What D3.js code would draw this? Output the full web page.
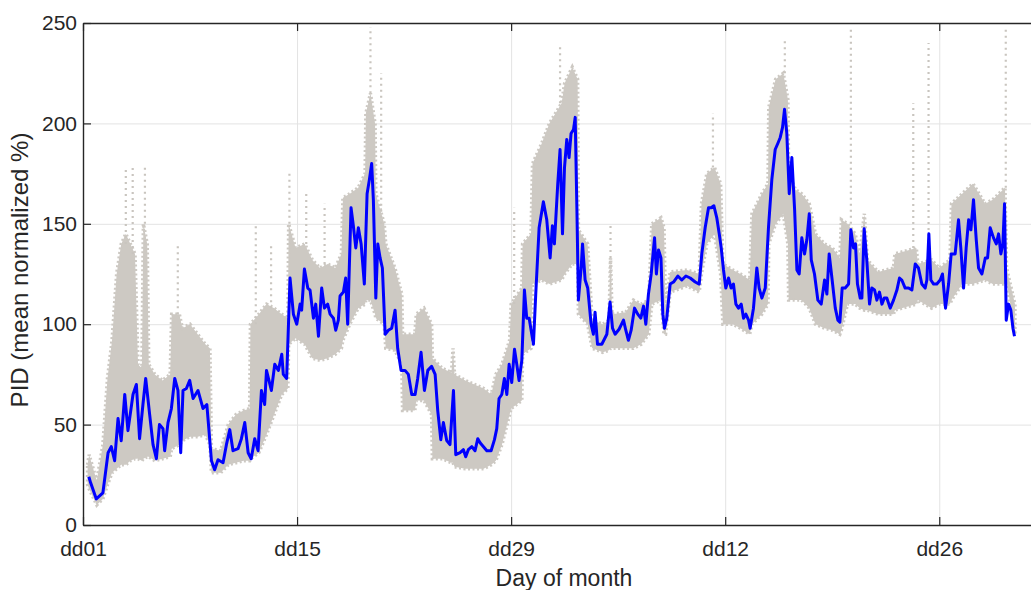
<!DOCTYPE html>
<html>
<head>
<meta charset="utf-8">
<script src="https://cdn.jsdelivr.net/npm/d3@7"></script>
<style>
  body { margin: 0; background: #fff; }
  svg { display: block; font-family: "Liberation Sans", Arial, sans-serif; }
</style>
</head>
<body>
<div id="canvas"></div>
<script>
// day offsets from dd01 and the mean line
const blueT = [0.38,0.5,0.87,1.3,1.64,1.85,2.07,2.29,2.5,2.73,2.94,3.27,3.49,3.7,3.92,4.1,4.36,4.58,4.8,5.0,5.23,5.34,5.56,5.78,6.0,6.21,6.39,6.54,6.76,6.98,7.2,7.52,7.85,8.1,8.4,8.61,8.83,9.16,9.38,9.6,9.81,10.14,10.36,10.58,10.8,11.0,11.23,11.45,11.67,11.88,12.0,12.32,12.54,12.78,13.0,13.1,13.32,13.54,13.76,13.98,14.2,14.3,14.48,14.7,14.85,15.07,15.22,15.4,15.61,15.79,16.0,16.16,16.38,16.53,16.7,16.81,17.03,17.18,17.31,17.53,17.68,17.84,18.01,18.19,18.4,18.58,18.73,18.88,18.99,19.15,19.28,19.43,19.58,19.76,19.97,20.19,20.41,20.58,20.8,21.06,21.28,21.5,21.72,21.89,22.11,22.33,22.55,22.8,23.03,23.2,23.4,23.57,23.79,24.0,24.23,24.38,24.66,24.88,25.03,25.2,25.43,25.64,25.82,25.97,26.19,26.41,26.69,26.91,27.06,27.21,27.39,27.56,27.72,27.87,28.04,28.22,28.37,28.52,28.7,28.87,29.02,29.18,29.35,29.46,29.61,29.83,30.11,30.33,30.55,30.7,30.83,31.05,31.2,31.36,31.49,31.64,31.79,31.92,32.08,32.19,32.3,32.4,32.58,32.67,32.84,33.01,33.23,33.38,33.49,33.65,33.93,34.26,34.47,34.63,34.8,35.06,35.35,35.5,35.67,35.85,36.07,36.28,36.48,36.66,36.81,36.98,37.16,37.38,37.5,37.64,37.8,37.92,38.03,38.18,38.4,38.62,38.9,39.16,39.43,39.71,40.04,40.3,40.47,40.69,40.91,41.08,41.26,41.45,41.61,41.74,41.89,42.04,42.22,42.39,42.54,42.7,42.87,43.05,43.2,43.35,43.53,43.63,43.85,44.07,44.22,44.4,44.62,44.83,45.05,45.27,45.44,45.6,45.75,45.88,46.03,46.19,46.36,46.54,46.69,46.84,47.01,47.19,47.34,47.5,47.63,47.84,48.06,48.28,48.5,48.65,48.8,48.98,49.2,49.37,49.5,49.65,49.85,50.07,50.22,50.39,50.52,50.65,50.83,50.94,51.09,51.26,51.44,51.59,51.77,51.92,52.09,52.25,52.4,52.57,52.79,53.01,53.23,53.4,53.55,53.77,53.99,54.21,54.43,54.64,54.86,55.08,55.19,55.32,55.45,55.63,55.84,56.06,56.21,56.41,56.61,56.78,57.04,57.26,57.41,57.59,57.76,57.92,58.07,58.24,58.42,58.57,58.79,59.01,59.16,59.33,59.55,59.73,59.88,60.03,60.16,60.27,60.38,60.53,60.68,60.82,60.92];
const blueV = [24,21,13,16,36,39,32,53,42,65,47,65,70,43,60,73,55,40,33,50,48,37,51,58,73,67,36,67,68,72,63,67,58,60,32,27.5,32.5,31,40,47.5,37,38,43,51,36,33,43,37,67,60,77,67,80,77,85,75,73,123,105,100,110,107,127.5,118,117,103,110,94,118,108,110,105,103,97,102,114,116,123,100,158,149,138,148,140,120,165,172,180,162,113,140,133,128,95,97,98,107,88,77,77,75,65,65,73,86,67,77,79,75,57,42.5,51,42,40,67,35,36,37.5,34,37.5,39,37,43,41,39,37,37,42.5,48,63,65,73,65,80,71,87.5,80,72,82,117,103,103,95,90,115,148,161,152,133,149,140,170,187,145,178,192,183,195,197,203,158,112,128,140,122,118,100,95,106,90,90,95,111,98,95,97.5,102,97,92,97,108,105,103,109,100,115,125,143,125,137,133,105,98,103,120,121,124,122,124,123,121,120,135,148,158,158,159,153,145,138,127,118,123,118,120,110,108,110,103,105,102,98,108,128,118,113,118,148,172,187,190,193,198,207,195,165,183,157,127,125,143,135,142,155,132,125,112,110,122,115,135,123,108,102,101,118,118,120,147,138,140,120,113,113,147.5,132,110,118,117,112,116,110,113,113,108,112,117,123,122,118,118,117,130,128,120,118,122,145,122,120,120,122,125,108,120,135,135,152,138,118,138,152,147,162,142,128,125,133,133,148,143,140,145,135,140,160,102,110,107,98,94];

// spread of the individual readings (dense part)
const grayT  = [0.3,0.4,0.9,1.3,1.6,1.9,2.2,2.5,2.8,3.1,3.4,3.6,3.85,3.95,4.2,4.3,4.7,5.2,5.7,5.8,6.3,6.5,7.0,7.5,8.0,8.3,8.4,9.0,9.5,10.0,10.5,10.9,10.95,11.5,12.0,12.5,13.0,13.4,13.45,13.9,14.5,15.0,15.5,16.0,16.5,16.9,17.0,17.45,18.0,18.45,18.5,18.8,19.1,19.15,19.7,19.8,20.4,20.85,20.9,21.7,21.8,22.3,22.8,22.85,23.5,24.1,24.2,24.3,25.0,25.6,26.2,26.7,27.0,27.4,27.9,28.0,28.7,28.75,29.3,29.4,30.0,30.5,31.3,31.5,32.0,32.35,32.4,33.0,33.3,34.0,34.4,34.5,34.6,35.5,36.0,36.5,37.0,37.2,37.8,38.0,38.1,38.4,39.5,40.3,40.45,40.8,41.3,41.7,41.85,42.5,43.0,43.6,43.75,44.4,44.8,44.85,45.3,45.8,46.1,46.15,46.6,47.0,47.5,47.9,48.5,49.0,49.5,49.6,50.0,50.5,50.8,51.1,51.3,52.0,53.0,53.1,54.5,54.6,55.5,56.0,56.7,56.8,57.5,58.2,59.0,59.5,60.3,60.4,60.95];
const grayLo = [20,18,10,13,20,26,28,30,30,32,33,33,32,33,34,34,32,33,34,38,40,42,44,44,45,40,26,26,30,31,32,32,33,36,45,55,65,68,90,93,90,83,82,83,85,88,92,100,108,110,112,112,105,103,100,88,87,80,57,57,62,62,55,33,33,31,31,29,28,28,28,30,32,40,55,58,62,85,88,120,122,120,122,125,130,130,105,100,88,86,87,88,88,88,88,90,95,110,112,95,95,116,119,116,125,140,145,125,100,100,98,95,100,105,110,140,150,155,140,112,112,112,108,100,98,97,95,97,110,110,108,107,107,105,105,107,110,112,108,110,110,112,120,120,122,120,120,122,95,90];
const grayHi = [30,35,22,40,73,92,125,140,145,140,135,80,78,150,140,80,75,72,75,105,105,98,100,95,90,88,38,37,50,55,57,58,100,105,110,108,105,103,150,138,140,132,128,130,128,135,163,165,168,175,205,215,200,165,150,140,128,115,95,95,105,108,100,83,78,76,88,75,72,70,68,65,75,80,92,110,118,140,145,180,190,200,210,220,228,222,147,140,102,100,102,133,105,106,112,110,112,150,153,148,108,126,127,125,160,175,178,170,130,127,125,122,155,165,170,208,222,225,212,175,167,165,160,145,140,138,133,152,150,145,135,155,132,126,128,135,138,130,132,128,132,160,165,170,160,162,168,128,110];

// sparse outlier columns above the dense spread
const spikeT  = [2.8,3.25,4.05,6.2,11.3,12.3,13.5,14.6,15.8,18.8,19.5,28.2,31.2,34.5,41.2,45.9,50.22,54.3,55.3,60.35];
const spikeLo = [140,135,150,105,100,108,150,140,130,215,150,110,210,133,178,225,150,138,132,168];
const spikeHi = [178,178,178,140,150,140,175,165,160,248,225,158,238,150,205,242,248,210,240,248];

const xTicks = [0, 14, 28, 42, 56];
const xTickLabels = ["dd01", "dd15", "dd29", "dd12", "dd26"];
const yTicks = [0, 50, 100, 150, 200, 250];

const width = 1031;
const height = 590;
const margin = { top: 23, left: 83, bottom: 65, right: 0 };
const iwidth = width - margin.left - margin.right;
const iheight = height - margin.top - margin.bottom;
const ink = "#262626";
const dotGray = "#cdc9c3";

const svg = d3.select("#canvas").append("svg")
  .attr("width", width)
  .attr("height", height);

const g = svg.append("g").attr("transform", `translate(${margin.left},${margin.top})`);

const x = d3.scaleLinear().domain([0, 62]).range([0, iwidth]);
const y = d3.scaleLinear().domain([0, 250]).range([iheight, 0]);

// grid
g.append("g")
  .attr("transform", `translate(0,${iheight})`)
  .call(d3.axisBottom(x).tickValues(xTicks).tickSize(-iheight).tickFormat(""))
  .call(a => a.select(".domain").remove())
  .call(a => a.selectAll("line").attr("stroke", "#e3e3e3"));
g.append("g")
  .call(d3.axisLeft(y).tickValues(yTicks).tickSize(-iwidth).tickFormat(""))
  .call(a => a.select(".domain").remove())
  .call(a => a.selectAll("line").attr("stroke", "#e3e3e3"));

// individual readings: solid core with a dotted, ragged edge
const spread = grayT.map((t, i) => ({ t, lo: grayLo[i], hi: grayHi[i] }));
g.append("path")
  .datum(spread)
  .attr("fill", dotGray)
  .attr("stroke", dotGray)
  .attr("stroke-width", 3.5)
  .attr("stroke-dasharray", "2,2.5")
  .attr("d", d3.area().x(d => x(d.t)).y0(d => y(d.lo)).y1(d => y(d.hi)));

g.selectAll(".spike")
  .data(spikeT.map((t, i) => ({ t, lo: spikeLo[i], hi: spikeHi[i] })))
  .enter().append("line")
  .attr("class", "spike")
  .attr("x1", d => x(d.t)).attr("x2", d => x(d.t))
  .attr("y1", d => y(d.lo)).attr("y2", d => y(d.hi))
  .attr("stroke", "#c9c5bf")
  .attr("stroke-width", 2.2)
  .attr("stroke-dasharray", "2,4");

// mean line
const mean = blueT.map((t, i) => ({ t, v: blueV[i] }));
g.append("path")
  .datum(mean)
  .attr("fill", "none")
  .attr("stroke", "#0000ff")
  .attr("stroke-width", 3)
  .attr("stroke-linejoin", "round")
  .attr("d", d3.line().x(d => x(d.t)).y(d => y(d.v)));

// axes, ticks pointing inward
const xAxis = g.append("g")
  .attr("transform", `translate(0,${iheight})`)
  .call(d3.axisBottom(x).tickValues(xTicks).tickSize(-8).tickSizeOuter(0).tickPadding(16)
    .tickFormat((d, i) => xTickLabels[i]));
const yAxis = g.append("g")
  .call(d3.axisLeft(y).tickValues(yTicks).tickSize(-8).tickSizeOuter(0).tickPadding(6));
const topAxis = g.append("g")
  .call(d3.axisTop(x).tickValues(xTicks).tickSize(-8).tickSizeOuter(0).tickFormat(""));

[xAxis, yAxis, topAxis].forEach(a => {
  a.select(".domain").attr("stroke", ink).attr("stroke-width", 1.4);
  a.selectAll("line").attr("stroke", ink).attr("stroke-width", 1.2);
  a.selectAll("text").attr("fill", ink).style("font-size", "21px")
    .style("font-family", '"Liberation Sans", Arial, sans-serif');
});

svg.append("text")
  .attr("x", 564)
  .attr("y", 586)
  .attr("text-anchor", "middle")
  .attr("fill", ink)
  .style("font-size", "23px")
  .text("Day of month");

svg.append("text")
  .attr("transform", "translate(28,270) rotate(-90)")
  .attr("text-anchor", "middle")
  .attr("fill", ink)
  .style("font-size", "24px")
  .text("PID (mean normalized %)");
</script>
</body>
</html>
